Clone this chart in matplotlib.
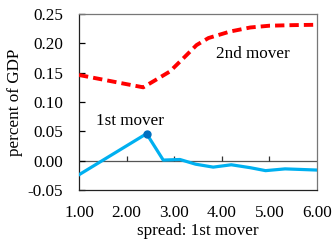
import matplotlib
matplotlib.use("Agg")
import matplotlib.pyplot as plt
import numpy as np

# spread values and responses (percent of GDP)
first_x = [1.0, 2.42, 2.77, 3.12, 3.45, 3.82, 4.2, 4.6, 4.92, 5.33, 6.0]
first_y = [-0.024, 0.046, 0.001, 0.002, -0.006, -0.011, -0.007, -0.012, -0.017, -0.014, -0.016]
second_x = [1.0, 1.83, 2.35, 2.6, 2.91, 3.23, 3.47, 3.72, 4.17, 4.6, 5.0, 5.5, 6.0]
second_y = [0.146, 0.133, 0.125, 0.137, 0.152, 0.1775, 0.197, 0.209, 0.220, 0.227, 0.230, 0.231, 0.2316]
peak_x = [2.42]
peak_y = [0.046]
x_ticks = [1, 2, 3, 4, 5, 6]
y_ticks = [-0.05, 0.0, 0.05, 0.10, 0.15, 0.20, 0.25]

plt.rcParams['font.family'] = ['Liberation Serif', 'DejaVu Serif']
plt.rcParams['font.size'] = 12.3

fig = plt.figure(figsize=(3.34, 2.41), dpi=100)
ax = fig.add_axes([0.2365, 0.2116, 0.949 - 0.2365, 0.942 - 0.2116])

ax.axhline(0, color='#555555', lw=0.9, zorder=1)
ax.vlines(x_ticks[1:-1], 0, 0.008, color='#333333', lw=0.9, zorder=1)

ax.plot(second_x, second_y, color='#ff0000', lw=2.8, ls=(0, (2.4, 1.3)), zorder=3)
ax.plot(first_x, first_y, color='#00b0f0', lw=2.3, zorder=3)
ax.plot(peak_x, peak_y, 'o', color='#0070c0', ms=5, zorder=4)

ax.set_xlim(1, 6)
ax.set_ylim(-0.05, 0.25)
ax.set_xticks(x_ticks)
ax.set_xticklabels([f"{v:.2f}" for v in x_ticks])
ax.set_yticks(y_ticks)
ax.set_yticklabels([f"{v:.2f}" for v in y_ticks])
ax.tick_params(axis='x', length=0, pad=11)
ax.tick_params(axis='y', direction='in', length=4, width=0.9, pad=11.5)

for side in ['left', 'bottom']:
    ax.spines[side].set_color('#222222')
    ax.spines[side].set_linewidth(0.9)
for side in ['top', 'right']:
    ax.spines[side].set_color('#777777')
    ax.spines[side].set_linewidth(0.9)

ax.text(1.36, 0.054, "1st mover", ha='left', va='bottom')
ax.text(3.88, 0.168, "2nd mover", ha='left', va='bottom')
ax.set_ylabel("percent of GDP", labelpad=3)
ax.set_xlabel("spread: 1st mover", labelpad=1)

fig.savefig("out.png", dpi=100)
